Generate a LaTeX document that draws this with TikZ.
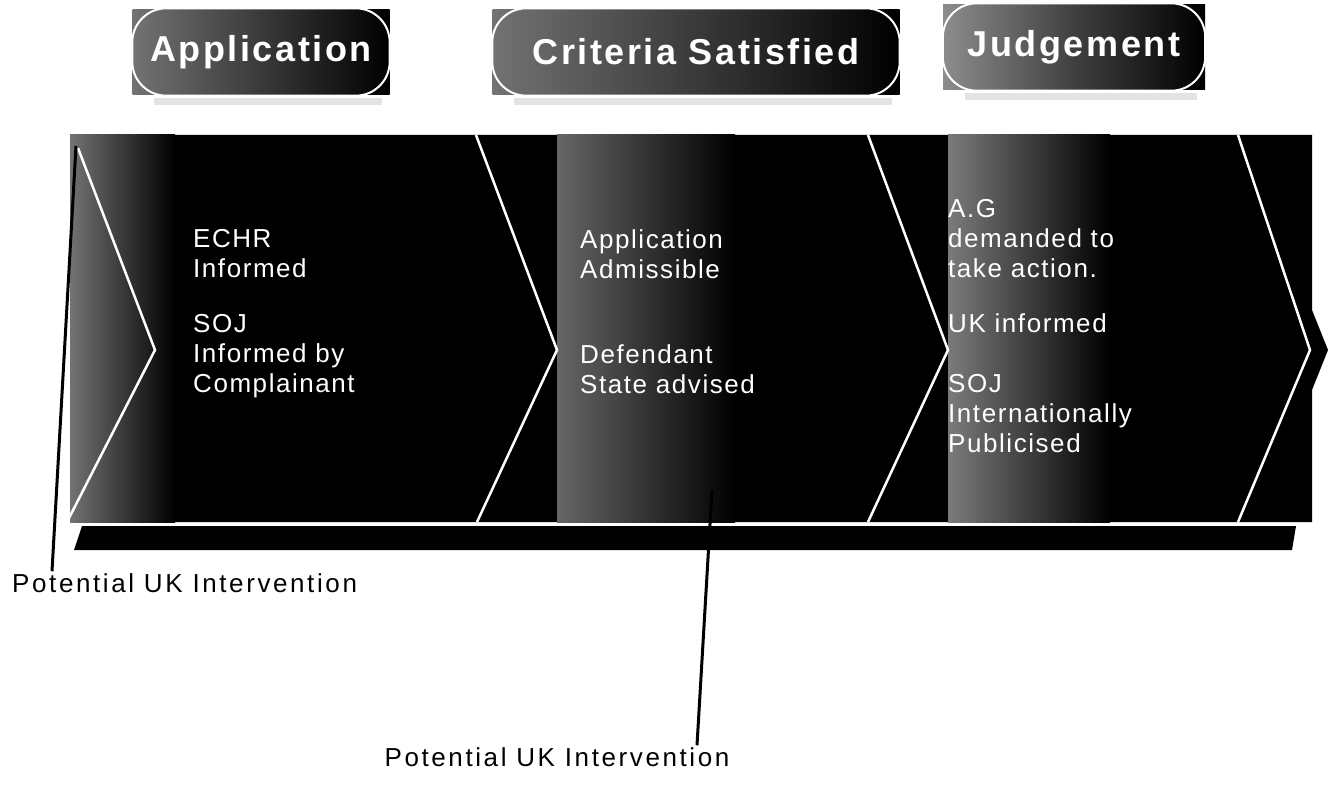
\documentclass[tikz,border=0pt]{standalone}
\usepackage{fontspec}
\setmainfont{Liberation Sans}
\usetikzlibrary{calc}

\begin{document}
\begin{tikzpicture}[x=1pt,y=-1pt]
\tikzset{
  phase/.style={rectangle, minimum height=85pt, inner sep=0pt,
    left color=black!55, middle color=black!88, right color=black,
    text=white, font=\fontsize{36}{40}\selectfont\bfseries\addfontfeature{LetterSpace=7}},
  phaseedge/.style={draw=white, line width=2pt, rounded corners=34pt},
  divider/.style={draw=white, line width=2.5pt},
  stagetext/.style={text=white, align=left, inner sep=0pt,
    font=\fontsize{26}{30}\selectfont\addfontfeature{LetterSpace=6}},
  remark/.style={inner sep=2pt, font=\fontsize{26}{30}\selectfont\addfontfeature{LetterSpace=10}},
  leader/.style={draw=black, line width=3pt}
}
\useasboundingbox (0,0) rectangle (1330,786);

\node[phase, minimum width=257pt] (ph1) at (261,52) {Application};
\node[phase, minimum width=407pt] (ph2) at (696,52) {Criteria Satisfied};
\node[phase, minimum width=262pt, left color=black!45, middle color=black!75] (ph3) at (1074,47) {Judgement};
\foreach \p in {ph1,ph2,ph3} {
  \fill[gray!22] ($(\p.south west)+(22,3)$) rectangle ($(\p.south east)+(-8,10)$);
  \draw[phaseedge] ($(\p.north west)+(0,-1)$) rectangle ($(\p.south east)+(0,1)$);
}

\fill[black] (70,135) -- (1312,135) -- (1312,310) -- (1328,350) -- (1312,390)
  -- (1312,522) -- (70,522) -- cycle;
\fill[black] (82,526) -- (1296,526) -- (1292,550) -- (74,550) -- cycle;

\shade[left color=black!55, right color=black] (70,135) rectangle (175,522);
\shade[left color=black!60, middle color=black!78, right color=black] (557,135) rectangle (735,522);
\shade[left color=black!52, middle color=black!62, right color=black] (948,135) rectangle (1110,522);

\draw[divider] (78,148) -- (155,350) -- (68,520);
\draw[divider] (476,135) -- (557,350) -- (477,522);
\draw[divider] (868,135) -- (948,350) -- (868,522);
\draw[divider] (1238,135) -- (1310,350) -- (1238,522);

\node[stagetext, anchor=north west] (txtapp) at (193,229)
  {ECHR\\Informed\\[25pt]SOJ\\Informed by\\Complainant};
\node[stagetext, anchor=north west] (txtcrit) at (580,229)
  {Application\\Admissible\\[55pt]Defendant\\State advised};
\node[stagetext, anchor=north west] (txtjudge) at (948,199)
  {A.G\\demanded to\\take action.\\[25pt]UK informed\\[30pt]SOJ\\Internationally\\Publicised};

\node[remark, anchor=west] (uk1) at (10,583) {Potential UK Intervention};
\node[remark] (uk2) at (557,757) {Potential UK Intervention};
\coordinate (uk1top) at (76,146);
\coordinate (uk2top) at (712,490);
\draw[leader] (uk1top) -- ([xshift=42pt]uk1.north west);
\draw[leader] (uk2top) -- ([xshift=140pt]uk2.north);
\end{tikzpicture}
\end{document}
